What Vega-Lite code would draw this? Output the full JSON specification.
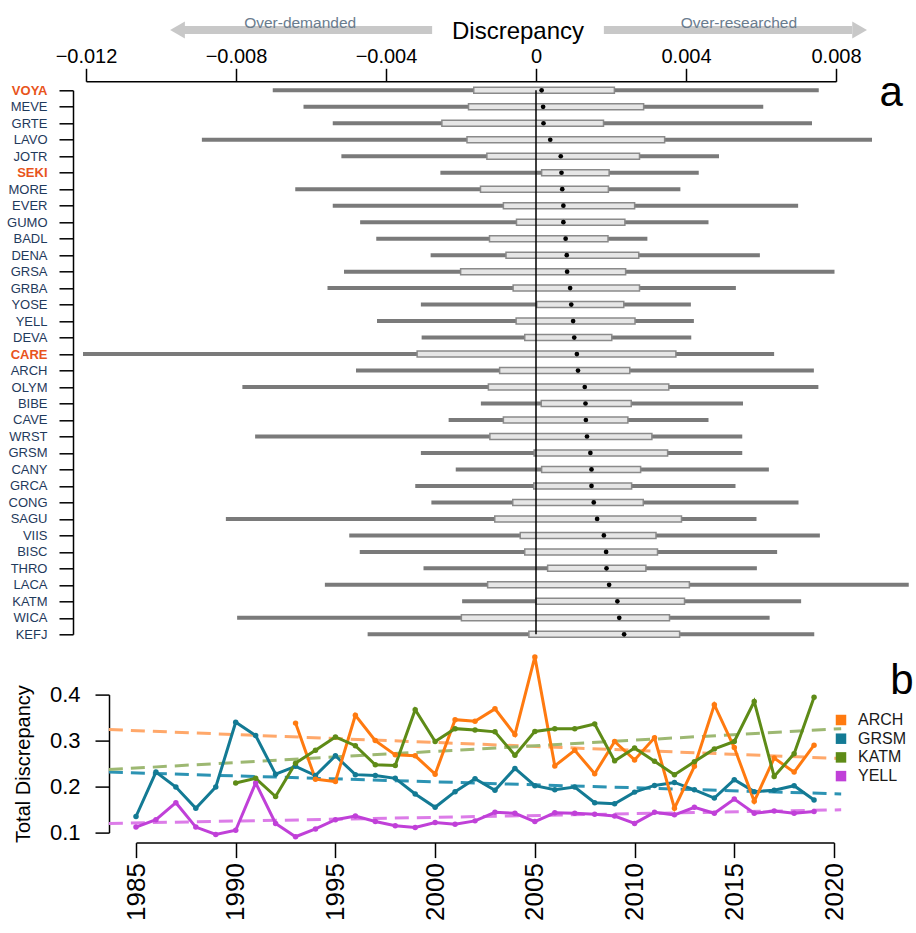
{
  "$schema": "https://vega.github.io/schema/vega-lite/v6.json",
  "background": "white",
  "padding": {"left": 6, "top": 14, "right": 0, "bottom": 0},
  "bounds": "flush",
  "spacing": 60.3,
  "config": {
    "font": "Liberation Sans",
    "view": {"stroke": null},
    "axis": {
      "grid": false, "labelFlush": false, "domainColor": "black", "tickColor": "black",
      "labelColor": "black", "domainWidth": 1.5, "tickWidth": 1.5,
      "labelFont": "Liberation Sans", "titleFont": "Liberation Sans",
      "titleFontWeight": "normal", "titleColor": "black"
    },
    "text": {"font": "Liberation Sans"}
  },
  "datasets": {
    "arrows": [
      {"id": "L", "lane": "arrow", "x": -0.00277},
      {"id": "L", "lane": "arrow", "x": -0.0094},
      {"id": "R", "lane": "arrow", "x": 0.00181},
      {"id": "R", "lane": "arrow", "x": 0.00843}
    ],
    "heads": [
      {"dir": "left", "lane": "arrow", "x": -0.00956},
      {"dir": "right", "lane": "arrow", "x": 0.00863}
    ],
    "arrowlabels": [
      {"text": "Over-demanded", "lane": "label", "x": -0.00629},
      {"text": "Over-researched", "lane": "label", "x": 0.00541}
    ],
    "axistitle": [{"text": "Discrepancy", "lane": "arrow", "x": -0.00048}],
    "parks": [
      {"park": "VOYA", "min": -0.00702, "q1": -0.00166, "med": 0.00015, "q3": 0.00209, "max": 0.00754},
      {"park": "MEVE", "min": -0.0062, "q1": -0.0018, "med": 0.00019, "q3": 0.00287, "max": 0.00606},
      {"park": "GRTE", "min": -0.00542, "q1": -0.00251, "med": 0.0002, "q3": 0.0018, "max": 0.00736},
      {"park": "LAVO", "min": -0.00891, "q1": -0.00184, "med": 0.00038, "q3": 0.00343, "max": 0.00896},
      {"park": "JOTR", "min": -0.00519, "q1": -0.00131, "med": 0.00066, "q3": 0.00276, "max": 0.00488},
      {"park": "SEKI", "min": -0.00255, "q1": 0.00015, "med": 0.00068, "q3": 0.00195, "max": 0.00434},
      {"park": "MORE", "min": -0.00642, "q1": -0.00148, "med": 0.0007, "q3": 0.00193, "max": 0.00385},
      {"park": "EVER", "min": -0.00542, "q1": -0.00087, "med": 0.00073, "q3": 0.00263, "max": 0.00699},
      {"park": "GUMO", "min": -0.00469, "q1": -0.00052, "med": 0.00073, "q3": 0.00237, "max": 0.0046},
      {"park": "BADL", "min": -0.00426, "q1": -0.00124, "med": 0.00079, "q3": 0.00192, "max": 0.00297},
      {"park": "DENA", "min": -0.00281, "q1": -0.0008, "med": 0.00082, "q3": 0.00274, "max": 0.00597},
      {"park": "GRSA", "min": -0.00512, "q1": -0.00201, "med": 0.00083, "q3": 0.00239, "max": 0.00796},
      {"park": "GRBA", "min": -0.00556, "q1": -0.00061, "med": 0.00091, "q3": 0.00276, "max": 0.00533},
      {"park": "YOSE", "min": -0.00307, "q1": 0.00002, "med": 0.00094, "q3": 0.00234, "max": 0.00413},
      {"park": "YELL", "min": -0.00424, "q1": -0.00053, "med": 0.00099, "q3": 0.00264, "max": 0.00421},
      {"park": "DEVA", "min": -0.00305, "q1": -0.0003, "med": 0.00102, "q3": 0.00202, "max": 0.00414},
      {"park": "CARE", "min": -0.01208, "q1": -0.00317, "med": 0.00109, "q3": 0.00373, "max": 0.00635},
      {"park": "ARCH", "min": -0.0048, "q1": -0.00097, "med": 0.00112, "q3": 0.0025, "max": 0.00741},
      {"park": "OLYM", "min": -0.00783, "q1": -0.00127, "med": 0.0013, "q3": 0.00354, "max": 0.00753},
      {"park": "BIBE", "min": -0.00147, "q1": 0.00014, "med": 0.00132, "q3": 0.00254, "max": 0.00552},
      {"park": "CAVE", "min": -0.00233, "q1": -0.00087, "med": 0.00133, "q3": 0.00245, "max": 0.0046},
      {"park": "WRST", "min": -0.00749, "q1": -0.00123, "med": 0.00136, "q3": 0.00309, "max": 0.0055},
      {"park": "GRSM", "min": -0.00307, "q1": -0.00005, "med": 0.00145, "q3": 0.00351, "max": 0.0055},
      {"park": "CANY", "min": -0.00214, "q1": 0.00015, "med": 0.00148, "q3": 0.00279, "max": 0.00621},
      {"park": "GRCA", "min": -0.00322, "q1": -0.00006, "med": 0.00148, "q3": 0.00255, "max": 0.00532},
      {"park": "CONG", "min": -0.00279, "q1": -0.00062, "med": 0.00154, "q3": 0.00286, "max": 0.007},
      {"park": "SAGU", "min": -0.00827, "q1": -0.0011, "med": 0.00163, "q3": 0.00388, "max": 0.00588},
      {"park": "VIIS", "min": -0.00498, "q1": -0.00042, "med": 0.00181, "q3": 0.0032, "max": 0.00757},
      {"park": "BISC", "min": -0.0047, "q1": -0.0003, "med": 0.00187, "q3": 0.00324, "max": 0.00643},
      {"park": "THRO", "min": -0.003, "q1": 0.00031, "med": 0.00188, "q3": 0.00293, "max": 0.00589},
      {"park": "LACA", "min": -0.00563, "q1": -0.00129, "med": 0.00195, "q3": 0.00409, "max": 0.00994},
      {"park": "KATM", "min": -0.00197, "q1": 0.0, "med": 0.00217, "q3": 0.00396, "max": 0.00707},
      {"park": "WICA", "min": -0.00797, "q1": -0.00199, "med": 0.00222, "q3": 0.00356, "max": 0.00623},
      {"park": "KEFJ", "min": -0.00449, "q1": -0.00019, "med": 0.00235, "q3": 0.00383, "max": 0.00742}
    ],
    "series": [
      {"park": "GRSM", "year": 1985, "value": 0.135}, {"park": "GRSM", "year": 1986, "value": 0.2315},
      {"park": "GRSM", "year": 1987, "value": 0.199}, {"park": "GRSM", "year": 1988, "value": 0.153},
      {"park": "GRSM", "year": 1989, "value": 0.199}, {"park": "GRSM", "year": 1990, "value": 0.34},
      {"park": "GRSM", "year": 1991, "value": 0.311}, {"park": "GRSM", "year": 1992, "value": 0.227},
      {"park": "GRSM", "year": 1993, "value": 0.244}, {"park": "GRSM", "year": 1994, "value": 0.224},
      {"park": "GRSM", "year": 1995, "value": 0.267}, {"park": "GRSM", "year": 1996, "value": 0.226},
      {"park": "GRSM", "year": 1997, "value": 0.224}, {"park": "GRSM", "year": 1998, "value": 0.218},
      {"park": "GRSM", "year": 1999, "value": 0.184}, {"park": "GRSM", "year": 2000, "value": 0.155},
      {"park": "GRSM", "year": 2001, "value": 0.189}, {"park": "GRSM", "year": 2002, "value": 0.217},
      {"park": "GRSM", "year": 2003, "value": 0.192}, {"park": "GRSM", "year": 2004, "value": 0.2395},
      {"park": "GRSM", "year": 2005, "value": 0.202}, {"park": "GRSM", "year": 2006, "value": 0.193},
      {"park": "GRSM", "year": 2007, "value": 0.199}, {"park": "GRSM", "year": 2008, "value": 0.165},
      {"park": "GRSM", "year": 2009, "value": 0.1625}, {"park": "GRSM", "year": 2010, "value": 0.188},
      {"park": "GRSM", "year": 2011, "value": 0.2025}, {"park": "GRSM", "year": 2012, "value": 0.209},
      {"park": "GRSM", "year": 2013, "value": 0.193}, {"park": "GRSM", "year": 2014, "value": 0.175},
      {"park": "GRSM", "year": 2015, "value": 0.215}, {"park": "GRSM", "year": 2016, "value": 0.189},
      {"park": "GRSM", "year": 2017, "value": 0.192}, {"park": "GRSM", "year": 2018, "value": 0.202},
      {"park": "GRSM", "year": 2019, "value": 0.171},
      {"park": "YELL", "year": 1985, "value": 0.112}, {"park": "YELL", "year": 1986, "value": 0.128},
      {"park": "YELL", "year": 1987, "value": 0.165}, {"park": "YELL", "year": 1988, "value": 0.112},
      {"park": "YELL", "year": 1989, "value": 0.096}, {"park": "YELL", "year": 1990, "value": 0.105},
      {"park": "YELL", "year": 1991, "value": 0.208}, {"park": "YELL", "year": 1992, "value": 0.12},
      {"park": "YELL", "year": 1993, "value": 0.091}, {"park": "YELL", "year": 1994, "value": 0.108},
      {"park": "YELL", "year": 1995, "value": 0.128}, {"park": "YELL", "year": 1996, "value": 0.136},
      {"park": "YELL", "year": 1997, "value": 0.124}, {"park": "YELL", "year": 1998, "value": 0.115},
      {"park": "YELL", "year": 1999, "value": 0.111}, {"park": "YELL", "year": 2000, "value": 0.122},
      {"park": "YELL", "year": 2001, "value": 0.118}, {"park": "YELL", "year": 2002, "value": 0.1255},
      {"park": "YELL", "year": 2003, "value": 0.144}, {"park": "YELL", "year": 2004, "value": 0.142},
      {"park": "YELL", "year": 2005, "value": 0.124}, {"park": "YELL", "year": 2006, "value": 0.143},
      {"park": "YELL", "year": 2007, "value": 0.142}, {"park": "YELL", "year": 2008, "value": 0.14},
      {"park": "YELL", "year": 2009, "value": 0.136}, {"park": "YELL", "year": 2010, "value": 0.12},
      {"park": "YELL", "year": 2011, "value": 0.144}, {"park": "YELL", "year": 2012, "value": 0.1386},
      {"park": "YELL", "year": 2013, "value": 0.155}, {"park": "YELL", "year": 2014, "value": 0.142},
      {"park": "YELL", "year": 2015, "value": 0.173}, {"park": "YELL", "year": 2016, "value": 0.142},
      {"park": "YELL", "year": 2017, "value": 0.147}, {"park": "YELL", "year": 2018, "value": 0.142},
      {"park": "YELL", "year": 2019, "value": 0.146},
      {"park": "ARCH", "year": 1993, "value": 0.338}, {"park": "ARCH", "year": 1994, "value": 0.216},
      {"park": "ARCH", "year": 1995, "value": 0.211}, {"park": "ARCH", "year": 1996, "value": 0.355},
      {"park": "ARCH", "year": 1997, "value": 0.3}, {"park": "ARCH", "year": 1998, "value": 0.269},
      {"park": "ARCH", "year": 1999, "value": 0.267}, {"park": "ARCH", "year": 2000, "value": 0.227},
      {"park": "ARCH", "year": 2001, "value": 0.3455}, {"park": "ARCH", "year": 2002, "value": 0.342},
      {"park": "ARCH", "year": 2003, "value": 0.369}, {"park": "ARCH", "year": 2004, "value": 0.313},
      {"park": "ARCH", "year": 2005, "value": 0.482}, {"park": "ARCH", "year": 2006, "value": 0.245},
      {"park": "ARCH", "year": 2007, "value": 0.279}, {"park": "ARCH", "year": 2008, "value": 0.228},
      {"park": "ARCH", "year": 2009, "value": 0.298}, {"park": "ARCH", "year": 2010, "value": 0.258},
      {"park": "ARCH", "year": 2011, "value": 0.306}, {"park": "ARCH", "year": 2012, "value": 0.153},
      {"park": "ARCH", "year": 2013, "value": 0.244}, {"park": "ARCH", "year": 2014, "value": 0.378},
      {"park": "ARCH", "year": 2015, "value": 0.285}, {"park": "ARCH", "year": 2016, "value": 0.168},
      {"park": "ARCH", "year": 2017, "value": 0.262}, {"park": "ARCH", "year": 2018, "value": 0.2315},
      {"park": "ARCH", "year": 2019, "value": 0.29},
      {"park": "KATM", "year": 1990, "value": 0.208}, {"park": "KATM", "year": 1991, "value": 0.218},
      {"park": "KATM", "year": 1992, "value": 0.1785}, {"park": "KATM", "year": 1993, "value": 0.251},
      {"park": "KATM", "year": 1994, "value": 0.279}, {"park": "KATM", "year": 1995, "value": 0.308},
      {"park": "KATM", "year": 1996, "value": 0.289}, {"park": "KATM", "year": 1997, "value": 0.2475},
      {"park": "KATM", "year": 1998, "value": 0.246}, {"park": "KATM", "year": 1999, "value": 0.367},
      {"park": "KATM", "year": 2000, "value": 0.298}, {"park": "KATM", "year": 2001, "value": 0.326},
      {"park": "KATM", "year": 2002, "value": 0.323}, {"park": "KATM", "year": 2003, "value": 0.319},
      {"park": "KATM", "year": 2004, "value": 0.268}, {"park": "KATM", "year": 2005, "value": 0.32},
      {"park": "KATM", "year": 2006, "value": 0.326}, {"park": "KATM", "year": 2007, "value": 0.326},
      {"park": "KATM", "year": 2008, "value": 0.336}, {"park": "KATM", "year": 2009, "value": 0.256},
      {"park": "KATM", "year": 2010, "value": 0.284}, {"park": "KATM", "year": 2011, "value": 0.255},
      {"park": "KATM", "year": 2012, "value": 0.226}, {"park": "KATM", "year": 2013, "value": 0.254},
      {"park": "KATM", "year": 2014, "value": 0.282}, {"park": "KATM", "year": 2015, "value": 0.298},
      {"park": "KATM", "year": 2016, "value": 0.385}, {"park": "KATM", "year": 2017, "value": 0.222},
      {"park": "KATM", "year": 2018, "value": 0.2715}, {"park": "KATM", "year": 2019, "value": 0.394}
    ],
    "trends": [
      {"trend": "ARCH fit", "year": 1983.64, "value": 0.324}, {"trend": "ARCH fit", "year": 2020.36, "value": 0.261},
      {"trend": "GRSM fit", "year": 1983.64, "value": 0.2315}, {"trend": "GRSM fit", "year": 2020.36, "value": 0.184},
      {"trend": "KATM fit", "year": 1983.64, "value": 0.237}, {"trend": "KATM fit", "year": 2020.36, "value": 0.326},
      {"trend": "YELL fit", "year": 1983.64, "value": 0.12}, {"trend": "YELL fit", "year": 2020.36, "value": 0.1495}
    ],
    "labelA": [{"label": "a"}],
    "labelB": [{"label": "b"}]
  },
  "vconcat": [
    {
      "width": 750,
      "height": 9,
      "layer": [
        {
          "data": {"name": "arrows"},
          "mark": {"type": "line", "strokeWidth": 8, "color": "#c8c8c8", "strokeCap": "butt"},
          "encoding": {
            "x": {"field": "x", "type": "quantitative", "scale": {"domain": [-0.012, 0.008], "nice": false, "zero": false}, "axis": null},
            "y": {"field": "lane", "type": "nominal", "scale": {"type": "point", "padding": 0, "domain": ["label", "arrow"]}, "axis": null},
            "detail": {"field": "id", "type": "nominal"}
          }
        },
        {
          "data": {"name": "heads"},
          "mark": {"type": "point", "filled": true, "color": "#c8c8c8", "size": 290, "opacity": 1},
          "encoding": {
            "x": {"field": "x", "type": "quantitative"},
            "y": {"field": "lane", "type": "nominal"},
            "shape": {"field": "dir", "type": "nominal", "scale": {"domain": ["left", "right"], "range": ["triangle-left", "triangle-right"]}, "legend": null}
          }
        },
        {
          "data": {"name": "arrowlabels"},
          "mark": {"type": "text", "fontSize": 15.5, "color": "#6a7c8e", "baseline": "middle", "align": "center", "dy": 2},
          "encoding": {
            "x": {"field": "x", "type": "quantitative"},
            "y": {"field": "lane", "type": "nominal"},
            "text": {"field": "text", "type": "nominal"}
          }
        },
        {
          "data": {"name": "axistitle"},
          "mark": {"type": "text", "fontSize": 24, "color": "black", "baseline": "middle", "align": "center", "dy": 2},
          "encoding": {
            "x": {"field": "x", "type": "quantitative"},
            "y": {"field": "lane", "type": "nominal"},
            "text": {"field": "text", "type": "nominal"}
          }
        }
      ]
    },
    {
      "width": 750,
      "height": 544,
      "layer": [
        {
          "data": {"name": "parks"},
          "mark": {"type": "rule", "color": "#7a7a7a", "strokeWidth": 4},
          "encoding": {
            "x": {
              "field": "min", "type": "quantitative", "title": null,
              "scale": {"domain": [-0.012, 0.008], "nice": false, "zero": false},
              "axis": {"orient": "top", "offset": 9, "values": [-0.012, -0.008, -0.004, 0, 0.004, 0.008], "format": ".3~f", "labelFontSize": 20, "tickSize": 13, "labelPadding": 2, "title": null}
            },
            "x2": {"field": "max"},
            "y": {
              "field": "park", "type": "nominal", "title": null,
              "scale": {"type": "point", "padding": 0, "domain": ["VOYA","MEVE","GRTE","LAVO","JOTR","SEKI","MORE","EVER","GUMO","BADL","DENA","GRSA","GRBA","YOSE","YELL","DEVA","CARE","ARCH","OLYM","BIBE","CAVE","WRST","GRSM","CANY","GRCA","CONG","SAGU","VIIS","BISC","THRO","LACA","KATM","WICA","KEFJ"]},
              "axis": {
                "orient": "left", "offset": 13, "tickSize": 14, "labelPadding": 12, "labelFontSize": 13, "title": null,
                "labelColor": {"condition": {"test": "indexof(['VOYA','SEKI','CARE'], datum.value) >= 0", "value": "#e8541c"}, "value": "#1f3a5c"},
                "labelFontWeight": {"condition": {"test": "indexof(['VOYA','SEKI','CARE'], datum.value) >= 0", "value": "bold"}, "value": "normal"}
              }
            }
          }
        },
        {
          "data": {"name": "parks"},
          "mark": {"type": "bar", "size": 6, "fill": "#e6e6e6", "stroke": "#8a8a8a", "strokeWidth": 1.5},
          "encoding": {
            "x": {"field": "q1", "type": "quantitative", "title": null},
            "x2": {"field": "q3"},
            "y": {"field": "park", "type": "nominal", "title": null}
          }
        },
        {
          "data": {"values": [{}]},
          "mark": {"type": "rule", "color": "black", "strokeWidth": 1.5},
          "encoding": {"x": {"datum": 0}}
        },
        {
          "data": {"name": "parks"},
          "mark": {"type": "circle", "color": "black", "size": 22, "opacity": 1},
          "encoding": {
            "x": {"field": "med", "type": "quantitative", "title": null},
            "y": {"field": "park", "type": "nominal", "title": null}
          }
        },
        {
          "data": {"name": "labelA"},
          "mark": {"type": "text", "fontSize": 42, "color": "black", "baseline": "middle", "align": "center", "dy": 3},
          "encoding": {
            "x": {"datum": 0.00947},
            "y": {"datum": "VOYA"},
            "text": {"field": "label", "type": "nominal"}
          }
        }
      ]
    },
    {
      "bounds": "flush",
      "spacing": 0,
      "hconcat": [
        {
          "width": 50,
          "height": 10,
          "data": {"values": [{}]},
          "mark": {"type": "point", "opacity": 0}
        },
        {
          "width": 698,
          "height": 138,
          "layer": [
            {
              "data": {"name": "trends"},
              "mark": {"type": "line", "strokeWidth": 3, "strokeDash": [14, 8]},
              "encoding": {
                "x": {
                  "field": "year", "type": "quantitative", "title": null,
                  "scale": {"domain": [1985, 2020], "nice": false, "zero": false},
                  "axis": {"orient": "bottom", "offset": 10, "values": [1985, 1990, 1995, 2000, 2005, 2010, 2015, 2020], "format": "d", "labelAngle": 270, "labelFontSize": 26, "tickSize": 15, "labelPadding": 5, "title": null}
                },
                "y": {
                  "field": "value", "type": "quantitative", "title": "Total Discrepancy",
                  "scale": {"domain": [0.1, 0.4], "nice": false, "zero": false},
                  "axis": {"offset": 27, "values": [0.1, 0.2, 0.3, 0.4], "format": ".1f", "labelFontSize": 22, "tickSize": 14, "labelPadding": 15, "title": "Total Discrepancy", "titleFontSize": 20, "titlePadding": 16}
                },
                "stroke": {
                  "field": "trend", "type": "nominal", "legend": null,
                  "scale": {"domain": ["ARCH","GRSM","KATM","YELL","ARCH fit","GRSM fit","KATM fit","YELL fit"], "range": ["#ff7a10","#137a94","#5e8b17","#c040d8","#ffa86a","#2c93b3","#9db872","#dc7ce8"]}
                }
              }
            },
            {
              "data": {"name": "series"},
              "mark": {"type": "line", "strokeWidth": 3},
              "encoding": {
                "x": {"field": "year", "type": "quantitative", "title": null},
                "y": {"field": "value", "type": "quantitative", "title": "Total Discrepancy"},
                "stroke": {
                  "field": "park", "type": "nominal", "legend": null,
                  "scale": {"domain": ["ARCH","GRSM","KATM","YELL","ARCH fit","GRSM fit","KATM fit","YELL fit"], "range": ["#ff7a10","#137a94","#5e8b17","#c040d8","#ffa86a","#2c93b3","#9db872","#dc7ce8"]}
                }
              }
            },
            {
              "data": {"name": "series"},
              "mark": {"type": "point", "filled": true, "size": 30, "opacity": 1},
              "encoding": {
                "x": {"field": "year", "type": "quantitative", "title": null},
                "y": {"field": "value", "type": "quantitative", "title": "Total Discrepancy"},
                "color": {
                  "field": "park", "type": "nominal",
                  "scale": {"domain": ["ARCH","GRSM","KATM","YELL"], "range": ["#ff7a10","#137a94","#5e8b17","#c040d8"]},
                  "legend": {"orient": "none", "legendX": 747, "legendY": 691, "title": null, "symbolType": "square", "symbolSize": 110, "symbolStrokeWidth": 0, "labelFontSize": 16, "labelOffset": 9, "rowPadding": 2.7, "padding": 0, "labelColor": "#1a1a1a", "symbolOpacity": 1}
                }
              }
            },
            {
              "data": {"name": "labelB"},
              "mark": {"type": "text", "fontSize": 42, "color": "black", "baseline": "middle", "align": "center"},
              "encoding": {
                "x": {"datum": 2023.4},
                "y": {"datum": 0.4296},
                "text": {"field": "label", "type": "nominal"}
              }
            }
          ]
        }
      ]
    }
  ]
}
